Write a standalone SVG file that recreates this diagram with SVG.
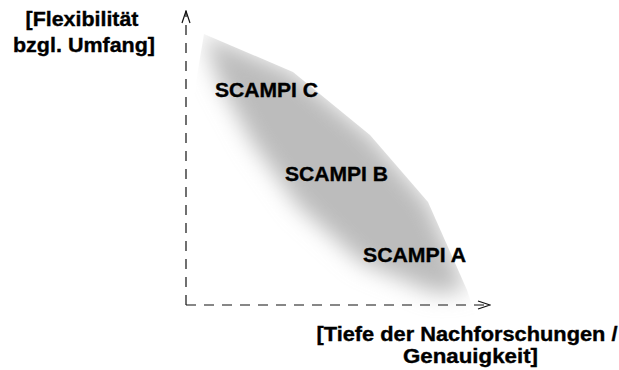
<svg xmlns="http://www.w3.org/2000/svg" width="619" height="370" viewBox="0 0 619 370">
<style>
.lbl{font-family:"Liberation Sans",Arial,sans-serif;font-weight:bold;font-size:19.5px;fill:#000;stroke:#000;stroke-width:0.35}
.axis{stroke:#111;stroke-width:1.2;fill:none;stroke-dasharray:10 8}
</style>
<defs>
<marker id="arr" viewBox="0 0 14 10" refX="13" refY="5" markerWidth="14" markerHeight="10" markerUnits="userSpaceOnUse" orient="auto">
<path d="M1,1 L13,5 L1,9" fill="none" stroke="#111" stroke-width="1.2"/>
</marker>
<filter id="blur" x="-30%" y="-30%" width="160%" height="160%">
<feGaussianBlur stdDeviation="11"/>
</filter>
<clipPath id="clip">
<polygon points="204,34 293,72 370,135 428,202 467,290 480,330 192,330 192,110 198,70"/>
</clipPath>
</defs>
<rect width="619" height="370" fill="#fff"/>
<g id="area" clip-path="url(#clip)">
<polygon points="204,34 293,72 370,135 428,202 467,290 435,293 362,263 298,206 252,142 218,80" fill="#bcbcbc" filter="url(#blur)"/>
</g>
<g id="connectors">
<line class="axis" x1="186" y1="305" x2="186" y2="11" marker-end="url(#arr)"/>
<line class="axis" x1="186" y1="305" x2="490" y2="305" marker-end="url(#arr)"/>
</g>
<g id="y-label">
<text class="lbl" x="82" y="26" text-anchor="middle" textLength="113" lengthAdjust="spacingAndGlyphs">[Flexibilität</text>
<text class="lbl" x="84" y="52" text-anchor="middle" textLength="142" lengthAdjust="spacingAndGlyphs">bzgl. Umfang]</text>
</g>
<g id="x-label">
<text class="lbl" x="467" y="341" text-anchor="middle" textLength="301" lengthAdjust="spacingAndGlyphs">[Tiefe der Nachforschungen /</text>
<text class="lbl" x="470.5" y="363" text-anchor="middle" textLength="135" lengthAdjust="spacingAndGlyphs">Genauigkeit]</text>
</g>
<g id="scampi-c"><text class="lbl" x="215" y="97" textLength="103" lengthAdjust="spacingAndGlyphs">SCAMPI C</text></g>
<g id="scampi-b"><text class="lbl" x="285" y="181" textLength="103" lengthAdjust="spacingAndGlyphs">SCAMPI B</text></g>
<g id="scampi-a"><text class="lbl" x="363" y="262" textLength="103" lengthAdjust="spacingAndGlyphs">SCAMPI A</text></g>
</svg>
